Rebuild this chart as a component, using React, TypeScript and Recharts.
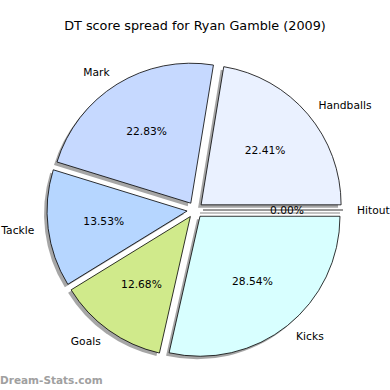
import { PieChart, Pie, Sector } from 'recharts'

const categories = ['Hitout', 'Handballs', 'Mark', 'Tackle', 'Goals', 'Kicks']
const shares = [0.0, 22.41, 22.83, 13.53, 12.68, 28.54]
const colors = ['#f0f4ff', '#eaf1ff', '#c6d9ff', '#b6d6ff', '#d0ea8b', '#d8ffff']

const chartData = categories.map((name, i) => ({ name, value: shares[i] }))

const RAD = Math.PI / 180
const EXPLODE = 8
const SHADOW = 3
const FONT = '"DejaVu Sans", sans-serif'

// offset along the mid angle of a slice (recharts angles go counter-clockwise)
const along = (mid: number, r: number) => ({
  x: r * Math.cos(-mid * RAD),
  y: r * Math.sin(-mid * RAD)
})

type SliceProps = {
  cx: number
  cy: number
  midAngle: number
  startAngle: number
  endAngle: number
  outerRadius: number
  index: number
}

// gray drop shadow behind each wedge
const ShadowSlice = (p: SliceProps) => {
  const o = along(p.midAngle, EXPLODE)
  const cx = p.cx + o.x - SHADOW
  const cy = p.cy + o.y + SHADOW
  if (p.startAngle === p.endAngle) {
    const e = along(p.startAngle, p.outerRadius)
    return (
      <line x1={cx} y1={cy} x2={cx + e.x} y2={cy + e.y} stroke="#888" strokeWidth={1.2} />
    )
  }
  return (
    <Sector
      cx={cx}
      cy={cy}
      innerRadius={0}
      outerRadius={p.outerRadius}
      startAngle={p.startAngle}
      endAngle={p.endAngle}
      fill="#4d4d4d"
      fillOpacity={0.5}
      stroke="none"
    />
  )
}

// the exploded wedge itself
const Slice = (p: SliceProps) => {
  const o = along(p.midAngle, EXPLODE)
  const cx = p.cx + o.x
  const cy = p.cy + o.y
  if (p.startAngle === p.endAngle) {
    const e = along(p.startAngle, p.outerRadius)
    return <line x1={cx} y1={cy} x2={cx + e.x} y2={cy + e.y} stroke="#000" strokeWidth={0.8} />
  }
  return (
    <Sector
      cx={cx}
      cy={cy}
      innerRadius={0}
      outerRadius={p.outerRadius}
      startAngle={p.startAngle}
      endAngle={p.endAngle}
      fill={colors[p.index]}
      stroke="#000"
      strokeWidth={0.8}
    />
  )
}

// category name outside, percentage inside
const SliceText = (p: SliceProps) => {
  const out = along(p.midAngle, EXPLODE + p.outerRadius * 1.1)
  const inn = along(p.midAngle, EXPLODE + p.outerRadius * 0.6)
  return (
    <g fontFamily={FONT} fontSize={10.7} fill="#000">
      <text
        x={p.cx + out.x}
        y={p.cy + out.y}
        textAnchor={out.x >= 0 ? 'start' : 'end'}
        dominantBaseline="central"
      >
        {categories[p.index]}
      </text>
      <text x={p.cx + inn.x} y={p.cy + inn.y} textAnchor="middle" dominantBaseline="central">
        {shares[p.index].toFixed(2)}%
      </text>
    </g>
  )
}

const App = () => {
  return (
    <div
      style={{
        position: 'absolute',
        left: 0,
        top: 0,
        width: 390,
        height: 390,
        background: '#fff'
      }}
    >
      <div
        style={{
          position: 'absolute',
          top: 18,
          width: 390,
          textAlign: 'center',
          fontFamily: FONT,
          fontSize: 12.8,
          lineHeight: '16px',
          color: '#000'
        }}
      >
        DT score spread for Ryan Gamble (2009)
      </div>
      <PieChart
        width={390}
        height={390}
        margin={{ top: 0, right: 0, bottom: 0, left: 0 }}
        style={{ position: 'absolute', left: 0, top: 0 }}
      >
        <Pie
          data={chartData}
          dataKey="value"
          cx={195}
          cy={210}
          outerRadius={140}
          startAngle={0}
          endAngle={360}
          fill="none"
          stroke="none"
          labelLine={false}
          label={ShadowSlice}
          isAnimationActive={false}
        />
        <Pie
          data={chartData}
          dataKey="value"
          cx={195}
          cy={210}
          outerRadius={140}
          startAngle={0}
          endAngle={360}
          fill="none"
          stroke="none"
          labelLine={false}
          label={Slice}
          isAnimationActive={false}
        />
        <Pie
          data={chartData}
          dataKey="value"
          cx={195}
          cy={210}
          outerRadius={140}
          startAngle={0}
          endAngle={360}
          fill="none"
          stroke="none"
          labelLine={false}
          label={SliceText}
          isAnimationActive={false}
        />
      </PieChart>
      <div
        style={{
          position: 'absolute',
          left: 0,
          top: 374,
          fontFamily: FONT,
          fontSize: 10.5,
          lineHeight: '12px',
          fontWeight: 'bold',
          color: '#a0a0a0'
        }}
      >
        Dream-Stats.com
      </div>
    </div>
  )
}

export default App
